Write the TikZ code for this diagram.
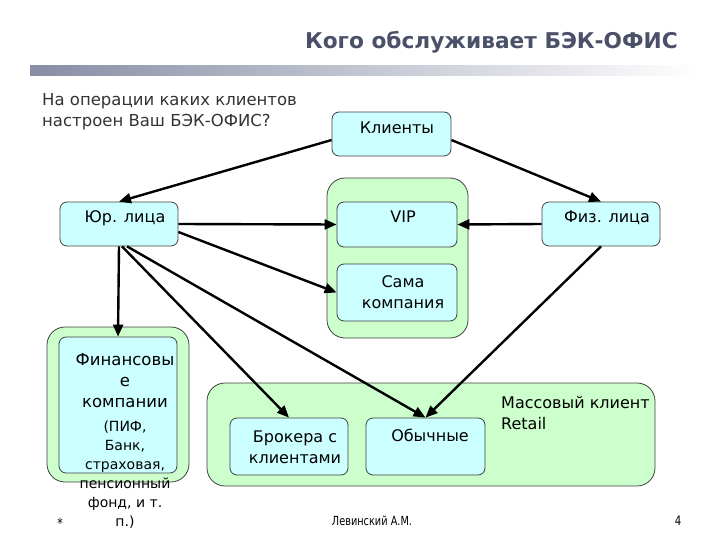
\documentclass[tikz,border=0pt]{standalone}
\usepackage{fontspec}
\setmainfont{DejaVu Sans}
\newfontfamily\footfont[FakeStretch=0.78]{DejaVu Sans}
\usetikzlibrary{arrows.meta}

\definecolor{titel}{RGB}{75,80,105}
\definecolor{balken}{RGB}{135,142,165}
\definecolor{kasten}{RGB}{204,255,255}
\definecolor{gruppe}{RGB}{204,255,204}
\definecolor{frage}{RGB}{51,51,51}

\tikzset{
  box/.style={draw=black!75, line width=0.8pt, fill=kasten, rounded corners=7pt},
  grp/.style={draw=black!75, line width=0.8pt, fill=gruppe, rounded corners=18pt},
  pfeil/.style={line width=2.4pt, -{Triangle[length=12pt,width=10pt]}},
  txt/.style={font=\fontsize{16}{21}\selectfont, align=center, inner sep=0pt},
  klein/.style={font=\fontsize{14}{19}\selectfont, align=center, inner sep=0pt}
}

\begin{document}
\begin{tikzpicture}[x=1pt,y=-1pt]
    \useasboundingbox (0,0) rectangle (720,540);

    % Kopf
    \node[anchor=east, text=titel, inner sep=0pt, font=\fontsize{21.7}{26}\selectfont\bfseries] (titel) at (678,42) {Кого обслуживает БЭК-ОФИС};
    \shade[left color=balken, right color=white] (30,66) rectangle (700,76);
    \node[anchor=west, text=frage, txt, font=\fontsize{16.5}{21}\selectfont, align=left] (frage) at (42,111.5) {На операции каких клиентов\\настроен Ваш БЭК-ОФИС?};

    % Gruppen
    \node[grp, minimum width=141pt, minimum height=160pt] (vipg) at (397.5,258) {};
    \node[grp, minimum width=142pt, minimum height=155pt] (fing) at (118,404.5) {};
    \node[grp, minimum width=448pt, minimum height=103pt] (mass) at (431,434.5) {};

    % Kaesten
    \node[box, minimum width=119pt, minimum height=44pt] (kl) at (391.5,134) {};
    \node[box, minimum width=118pt, minimum height=44pt] (yur) at (119,224) {};
    \node[box, minimum width=118pt, minimum height=44pt] (fiz) at (601,224) {};
    \node[box, minimum width=120pt, minimum height=45pt] (vip) at (397,224.5) {};
    \node[box, minimum width=120pt, minimum height=57pt] (sama) at (397,292.5) {};
    \node[box, minimum width=118pt, minimum height=136pt] (fin) at (118,405) {};
    \node[box, minimum width=118pt, minimum height=57pt] (brok) at (289,446.5) {};
    \node[box, minimum width=119pt, minimum height=57pt] (obych) at (425.5,446.5) {};

    % Beschriftungen
    \node[txt] (klt) at (397,128) {Клиенты};
    \node[txt] (yurt) at (125,218) {Юр. лица};
    \node[txt] (fizt) at (607,218) {Физ. лица};
    \node[txt] (vipt) at (403,217) {VIP};
    \node[txt] (samat) at (403,292) {Сама\\компания};
    \node[txt] (brokt) at (295,447) {Брокера с\\клиентами};
    \node[txt] (obycht) at (430,435) {Обычные};
    \node[txt, align=left, anchor=west] (masst) at (501,413) {Массовый клиент\\Retail};
    \node[txt, font=\fontsize{16.5}{21}\selectfont] (fint) at (125,381) {Финансовы\\е\\компании};
    \node[klein] (finz) at (125,474.5) {(ПИФ,\\Банк,\\страховая,\\пенсионный\\фонд, и т.\\п.)};

    % Pfeile
    \draw[pfeil] ([yshift=-6pt]kl.west) -- (yur.north);
    \draw[pfeil] ([yshift=-6pt]kl.east) -- (fiz.north);
    \draw[pfeil] (yur.east) -- (vip.west);
    \draw[pfeil] (fiz.west) -- (vip.east);
    \draw[pfeil] ([yshift=-8pt]yur.east) -- (sama.west);
    \draw[pfeil] (yur.south) -- (fin.north);
    \draw[pfeil] ([xshift=3pt]yur.south) -- (brok.north);
    \draw[pfeil] ([xshift=8pt]yur.south) -- (obych.north);
    \draw[pfeil] (fiz.south) -- (obych.north);

    % Fuss
    \node[inner sep=0pt, font=\footfont\fontsize{14}{16}\selectfont] (stern) at (60,523) {*};
    \node[inner sep=0pt, font=\footfont\fontsize{12.5}{15}\selectfont] (autor) at (372,521) {Левинский А.М.};
    \node[inner sep=0pt, font=\footfont\fontsize{13}{15}\selectfont] (seite) at (678,521) {4};
\end{tikzpicture}
\end{document}
